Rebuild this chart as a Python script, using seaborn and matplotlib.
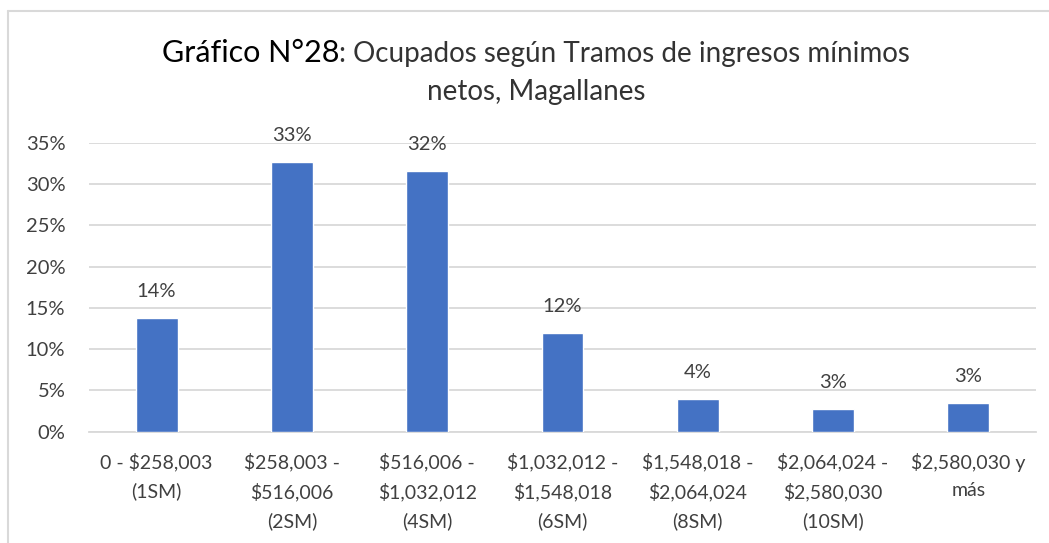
import matplotlib
matplotlib.use('Agg')
import matplotlib.pyplot as plt
from matplotlib.lines import Line2D
from matplotlib.ticker import FuncFormatter
import seaborn as sns

categories = ['0 - $258,003\n(1SM)',
              '$258,003 -\n$516,006\n(2SM)',
              '$516,006 -\n$1,032,012\n(4SM)',
              '$1,032,012 -\n$1,548,018\n(6SM)',
              '$1,548,018 -\n$2,064,024\n(8SM)',
              '$2,064,024 -\n$2,580,030\n(10SM)',
              '$2,580,030 y\nmás']
values = [13.8, 32.7, 31.6, 11.9, 4.0, 2.7, 3.45]
title_bold = 'Gráfico N°28'
title_rest = ': Ocupados según Tramos de ingresos mínimos'
title_line2 = 'netos, Magallanes'

sns.set_style('white')
plt.rcParams['font.family'] = ['Lato', 'DejaVu Sans']

BAR = '#4472C4'
GRID = '#D9D9D9'
TXT = '#404040'


def draw_title(fig):
    fig.canvas.draw()
    r = fig.canvas.get_renderer()
    W = fig.get_figwidth() * fig.dpi
    t1 = fig.text(0, 0.886, title_bold, fontsize=22, color='black',
                  va='baseline', ha='left')
    t2 = fig.text(0, 0.886, title_rest, fontsize=20, color='#333333',
                  va='baseline', ha='left')
    w1 = t1.get_window_extent(r).width
    w2 = t2.get_window_extent(r).width
    x0 = 536 - (w1 + w2) / 2
    t1.set_x(x0 / W)
    t2.set_x((x0 + w1) / W)
    fig.text(536 / W, 0.816, title_line2, fontsize=20, color='#333333',
             va='baseline', ha='center')


def main():
    fig = plt.figure(figsize=(10.49, 5.43), dpi=100)
    ax = fig.add_axes([0.0848, 0.205, 0.9028, 0.5322])

    sns.barplot(x=categories, y=values, color=BAR, saturation=1,
                width=0.31, ax=ax, zorder=3)
    ax.set_ylim(0, 35)
    ax.set_yticks(range(0, 36, 5))
    ax.yaxis.set_major_formatter(FuncFormatter(lambda v, p: f'{v:.0f}%'))
    ax.grid(axis='y', color=GRID, linewidth=1.3, zorder=0)
    ax.set_axisbelow(True)
    for s in ['top', 'right', 'left']:
        ax.spines[s].set_visible(False)
    ax.spines['bottom'].set_color(GRID)
    ax.spines['bottom'].set_linewidth(1.3)
    ax.tick_params(axis='y', length=0, pad=17, labelsize=14.5,
                   labelcolor=TXT)
    ax.tick_params(axis='x', length=0, pad=15, labelsize=14,
                   labelcolor=TXT)
    for lab in ax.get_xticklabels():
        lab.set_linespacing(1.75)
        lab.set_verticalalignment('top')

    ax.bar_label(ax.containers[0],
                 labels=[f'{round(v)}%' for v in values],
                 padding=13, fontsize=14.5, color=TXT)

    fig.add_artist(Line2D([0.0076, 0.0076], [0, 0.9797], color=GRID,
                          linewidth=1.5))
    fig.add_artist(Line2D([0.0076, 1], [0.9797, 0.9797], color=GRID,
                          linewidth=1.5))

    draw_title(fig)
    fig.savefig('out.png', dpi=100)


if __name__ == '__main__':
    main()
